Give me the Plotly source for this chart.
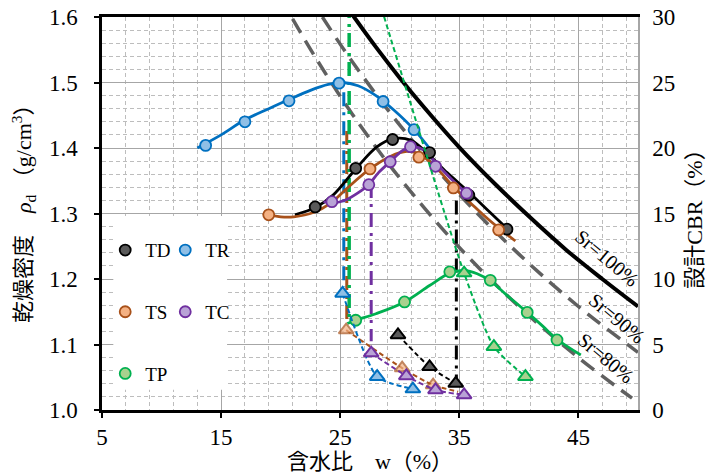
import plotly.graph_objects as go

# ---- compaction curves: water content w (%) vs dry density (g/cm3) ----
TD_w = [22.9, 26.3, 29.4, 32.5, 35.8, 39.0]
TD_rho = [1.310, 1.369, 1.413, 1.393, 1.328, 1.276]
TD_fit_w = [21.2, 22.9, 24.4, 26.3, 28.1, 29.4, 30.9, 32.3, 34.0, 35.9, 37.5, 39.0]
TD_fit_rho = [1.298, 1.309, 1.328, 1.368, 1.402, 1.414, 1.412, 1.392, 1.362, 1.331, 1.303, 1.277]

TR_w = [13.7, 17.0, 20.7, 24.9, 28.6, 31.2]
TR_rho = [1.404, 1.440, 1.472, 1.499, 1.471, 1.428]
TR_fit_w = [13.0, 15.0, 17.0, 19.0, 20.7, 22.5, 24.0, 25.2, 26.5, 28.0, 29.5, 31.2, 32.6]
TR_fit_rho = [1.400, 1.420, 1.443, 1.460, 1.474, 1.488, 1.497, 1.500, 1.495, 1.480, 1.458, 1.428, 1.397]

TS_w = [19.0, 27.5, 31.6, 34.5, 38.3]
TS_rho = [1.298, 1.368, 1.386, 1.339, 1.275]
TS_fit_w = [18.5, 20.0, 21.1, 22.8, 24.2, 25.6, 27.5, 29.2, 30.6, 31.7, 33.1, 34.5, 36.0, 37.5, 39.7]
TS_fit_rho = [1.300, 1.295, 1.295, 1.302, 1.316, 1.339, 1.368, 1.387, 1.395, 1.390, 1.369, 1.341, 1.315, 1.290, 1.258]

TC_w = [24.3, 27.4, 29.2, 30.9, 33.0, 35.6]
TC_rho = [1.318, 1.344, 1.379, 1.402, 1.372, 1.331]
TC_fit_w = [23.6, 24.4, 25.5, 26.7, 27.4, 28.2, 29.2, 30.3, 31.2, 32.0, 33.0, 34.3, 35.6, 36.1]
TC_fit_rho = [1.318, 1.316, 1.321, 1.334, 1.344, 1.362, 1.379, 1.397, 1.402, 1.397, 1.378, 1.353, 1.331, 1.323]

TP_w = [26.3, 30.4, 34.2, 37.6, 40.7, 43.2]
TP_rho = [1.137, 1.165, 1.211, 1.198, 1.149, 1.107]
TP_fit_w = [25.6, 26.3, 28.0, 30.4, 32.5, 34.2, 35.4, 36.5, 37.6, 39.0, 40.7, 42.0, 43.2, 45.2]
TP_fit_rho = [1.132, 1.137, 1.147, 1.165, 1.190, 1.209, 1.213, 1.208, 1.197, 1.175, 1.149, 1.128, 1.108, 1.084]

# ---- design CBR (%) vs water content ----
TD_cbr_w = [29.85, 32.5, 34.7]
TD_cbr = [5.73, 3.3, 2.03]
TR_cbr_w = [25.2, 28.1, 31.1]
TR_cbr = [8.9, 2.54, 1.6]
TS_cbr_w = [25.5, 30.2, 32.8, 34.9]
TS_cbr = [6.1, 3.2, 1.9, 1.4]
TC_cbr_w = [27.6, 30.55, 33.0, 35.4]
TC_cbr = [4.35, 2.6, 1.53, 1.15]
TP_cbr_w = [25.75, 35.4, 37.9, 40.55]
TP_cbr = [38.8, 10.45, 4.83, 2.54]

# ---- design water content markers (vertical lines, dry density span) ----
design_names = ["TD", "TR", "TS", "TC", "TP"]
design_w = [34.75, 25.3, 25.55, 27.6, 25.75]
design_top = [1.320, 1.485, 1.426, 1.345, 1.620]
design_bottom = [1.049, 1.188, 1.130, 1.105, 1.140]

# ---- degree-of-saturation curves ----
Sr100_w = [26.0, 28.0, 30.0, 32.0, 35.0, 38.0, 41.0, 44.0, 47.0, 50.0]
Sr100_rho = [1.604, 1.554, 1.507, 1.463, 1.401, 1.345, 1.293, 1.244, 1.200, 1.158]
Sr90_w = [23.5, 26.0, 30.0, 35.0, 40.0, 45.0, 50.0]
Sr90_rho = [1.600, 1.532, 1.435, 1.329, 1.238, 1.158, 1.088]
Sr80_w = [21.0, 23.0, 26.0, 30.0, 35.0, 40.0, 45.0, 49.5]
Sr80_rho = [1.597, 1.536, 1.452, 1.354, 1.248, 1.158, 1.080, 1.018]

SERIF = "Liberation Serif"
CJK = "Liberation Serif, Noto Sans CJK JP"

# colours: (line, marker fill)
colors = {
    "TD": ("#000000", "#5a5a5a"),
    "TR": ("#0070c0", "#8fbfe6"),
    "TS": ("#a8511a", "#f4b183"),
    "TC": ("#7030a0", "#b9a3d6"),
    "TP": ("#00b050", "#a9d18e"),
}

fig = go.Figure()

# saturation lines
fig.add_trace(go.Scatter(x=Sr100_w, y=Sr100_rho, mode="lines", line=dict(color="black", width=4, shape="spline"),
                         showlegend=False, hoverinfo="skip"))
for xs, ys in [(Sr90_w, Sr90_rho), (Sr80_w, Sr80_rho)]:
    fig.add_trace(go.Scatter(x=xs, y=ys, mode="lines",
                             line=dict(color="#606060", width=3.5, dash="16px,9px", shape="spline"),
                             showlegend=False, hoverinfo="skip"))

# design water content lines
for name, w, top, bot in zip(design_names, design_w, design_top, design_bottom):
    lc = colors[name][0]
    fig.add_trace(go.Scatter(x=[w, w], y=[top, bot], mode="lines",
                             line=dict(color=lc, width=3.5 if name == "TP" else 3, dash="14px,6px,3px,6px"),
                             showlegend=False, hoverinfo="skip"))

# fitted compaction curves
fits = {
    "TR": (TR_fit_w, TR_fit_rho), "TD": (TD_fit_w, TD_fit_rho), "TS": (TS_fit_w, TS_fit_rho),
    "TC": (TC_fit_w, TC_fit_rho), "TP": (TP_fit_w, TP_fit_rho),
}
for name, (xs, ys) in fits.items():
    fig.add_trace(go.Scatter(x=xs, y=ys, mode="lines",
                             line=dict(color=colors[name][0], width=2.8, shape="spline", smoothing=1.0),
                             showlegend=False, hoverinfo="skip"))

# CBR curves (right axis)
cbrs = {
    "TS": (TS_cbr_w, TS_cbr, [13, 13, 13, 0]), "TR": (TR_cbr_w, TR_cbr, 13),
    "TC": (TC_cbr_w, TC_cbr, 13), "TD": (TD_cbr_w, TD_cbr, 13), "TP": (TP_cbr_w, TP_cbr, 13),
}
for name, (xs, ys, sz) in cbrs.items():
    lc, fc = colors[name]
    fig.add_trace(go.Scatter(x=xs, y=ys, yaxis="y2", mode="lines+markers",
                             line=dict(color=lc, width=2, dash="5px,3px", shape="spline", smoothing=0.6),
                             marker=dict(symbol="triangle-up", size=sz, color=fc, line=dict(color=lc, width=2)),
                             showlegend=False, hoverinfo="skip"))

# compaction test points (legend entries)
points = [
    ("TD", TD_w, TD_rho, "legend", "g1"), ("TS", TS_w, TS_rho, "legend", "g2"),
    ("TP", TP_w, TP_rho, "legend", "g3"), ("TR", TR_w, TR_rho, "legend2", "g4"),
    ("TC", TC_w, TC_rho, "legend2", "g5"),
]
for name, xs, ys, leg, grp in points:
    lc, fc = colors[name]
    fig.add_trace(go.Scatter(x=xs, y=ys, mode="markers", name=name, legend=leg, legendgroup=grp,
                             marker=dict(symbol="circle", size=11, color=fc, line=dict(color=lc, width=1.8))))

# saturation labels
for txt, x, y in [("Sr=100%", 47.4, 1.232), ("Sr=90%", 48.2, 1.140), ("Sr=80%", 47.3, 1.079)]:
    fig.add_annotation(x=x, y=y, text=txt, showarrow=False, textangle=40,
                       font=dict(family=SERIF, size=20, color="black"))

# left axis title, placed as a rotated annotation
fig.add_annotation(xref="paper", yref="paper", x=-0.1455, y=0.514, xanchor="center", yanchor="middle",
                   text="乾燥密度　<i>ρ</i><sub>d</sub> （g/cm<sup>3</sup>）", textangle=-90, showarrow=False,
                   font=dict(family=CJK, size=22, color="black"))

# white panel behind the legend
fig.add_shape(type="rect", xref="x", yref="y", x0=5.95, x1=15.5, y0=1.031, y1=1.296,
              fillcolor="white", line=dict(width=0), layer="between")

tickfont = dict(family=SERIF, size=23, color="black")
fig.update_layout(
    width=707, height=474,
    margin=dict(l=102, r=69, t=17, b=64),
    paper_bgcolor="white", plot_bgcolor="white",
    xaxis=dict(range=[5, 50], tick0=5, dtick=10, showgrid=True, gridcolor="#a6a6a6", gridwidth=1.3,
               zeroline=False, showline=True, linecolor="black", linewidth=2.5, mirror=True,
               ticks="outside", ticklen=5, tickcolor="black", tickwidth=1.5, tickfont=tickfont,
               minor=dict(tick0=5, dtick=2, showgrid=True, gridcolor="#bdbdbd", griddash="4px,3px", gridwidth=1),
               title=dict(text="含水比　w（%）", font=dict(family=CJK, size=22, color="black"), standoff=4),
               automargin=False),
    yaxis=dict(range=[1.0, 1.6], dtick=0.1, tickformat=".1f", showgrid=True, gridcolor="#a6a6a6", gridwidth=1.3,
               zeroline=False, showline=True, linecolor="black", linewidth=2.5,
               ticks="outside", ticklen=5, tickcolor="black", tickwidth=1.5, tickfont=tickfont,
               ticklabelstandoff=12,
               minor=dict(dtick=0.02, showgrid=True, gridcolor="#bdbdbd", griddash="4px,3px", gridwidth=1),
               automargin=False),
    yaxis2=dict(range=[0, 30], dtick=5, overlaying="y", side="right", showgrid=False, zeroline=False,
                showline=True, linecolor="#a6a6a6", linewidth=1.5, ticks="inside", ticklen=5,
                tickcolor="#a6a6a6", tickfont=tickfont, ticklabelstandoff=8,
                title=dict(text="設計CBR（%）", font=dict(family=CJK, size=22, color="black"), standoff=19),
                automargin=False),
    legend=dict(x=0.006, y=0.455, xanchor="left", yanchor="top", bgcolor="rgba(0,0,0,0)",
                font=dict(family=SERIF, size=19, color="black"), tracegroupgap=34, traceorder="grouped"),
    legend2=dict(x=0.118, y=0.455, xanchor="left", yanchor="top", bgcolor="rgba(0,0,0,0)",
                 font=dict(family=SERIF, size=19, color="black"), tracegroupgap=34, traceorder="grouped"),
)

fig.write_html("out.html")
